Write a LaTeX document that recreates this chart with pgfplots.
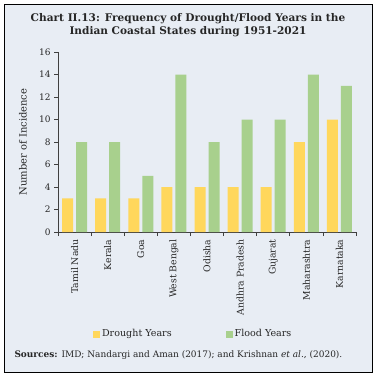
\documentclass[border=0pt]{standalone}
\usepackage{pgfplots}
\pgfplotsset{compat=1.18}
\usepackage{fontspec}
\setmainfont{DejaVu Serif}
\definecolor{bgc}{HTML}{E8EDF4}
\definecolor{drought}{HTML}{FFD75C}
\definecolor{flood}{HTML}{A8D08D}
\definecolor{axc}{HTML}{404040}
\begin{document}
\begin{tikzpicture}[x=1bp,y=1bp]
\fill[white] (0,0) rectangle (377,376);
\filldraw[fill=bgc,draw=black,line width=0.8bp] (4,4) rectangle (372,372);
\coordinate (O) at (58,144);
\node[font=\bfseries\fontsize{10.6}{13}\selectfont,align=center,text=black!85] at (188,350.5) {Chart II.13: Frequency of Drought/Flood Years in the\\Indian Coastal States during 1951-2021};
\begin{axis}[
  at={(O)}, anchor=south west,
  scale only axis, width=298bp, height=180bp,
  xmin=-0.5, xmax=8.5, ymin=0, ymax=16,
  ybar=3bp, bar width=11bp,
  axis lines*=left,
  axis line style={axc,line width=0.6bp},
  every tick/.style={axc,line width=0.6bp},
  xtick={0,...,8},
  xticklabels={Tamil Nadu,Kerala,Goa,West Bengal,Odisha,Andhra Pradesh,Gujarat,Maharashtra,Karnataka},
  major x tick style={draw=none},
  minor xtick={-0.5,0.5,...,8.5},
  minor tick length=4bp,
  ytick={0,2,...,16},
  major tick length=4bp,
  tick align=outside,
  xticklabel style={rotate=90,anchor=east,font=\fontsize{9.3}{10}\selectfont,text=black!85,xshift=0bp},
  yticklabel style={font=\fontsize{9}{10}\selectfont,text=black!85},
  /pgf/number format/assume math mode=true,
  ylabel={Number of Incidence},
  ylabel style={font=\fontsize{9.4}{10}\selectfont},
  every axis y label/.style={at={(rel axis cs:0,0.5)},xshift=-35bp,rotate=90,anchor=center,text=black!85},
  legend style={at={(0.107,-0.567)},anchor=west,draw=none,fill=none,legend columns=2,
    font=\fontsize{9.6}{10}\selectfont,text=black!85,
    /tikz/every even column/.style={column sep=52bp}},
  legend image code/.code={\fill[#1] (0bp,-3.5bp) rectangle (7bp,3.5bp);},
]
\addplot[fill=drought,draw=none] coordinates {(0,3) (1,3) (2,3) (3,4) (4,4) (5,4) (6,4) (7,8) (8,10)};
\addplot[fill=flood,draw=none] coordinates {(0,8) (1,8) (2,5) (3,14) (4,8) (5,10) (6,10) (7,14) (8,13)};
\legend{Drought Years,Flood Years}
\end{axis}
\node[anchor=west,font=\fontsize{9}{10}\selectfont,text=black!85] at (11,21) {\textbf{Sources:} IMD; Nandargi and Aman (2017); and Krishnan \textit{et al}., (2020).};
\end{tikzpicture}
\end{document}
